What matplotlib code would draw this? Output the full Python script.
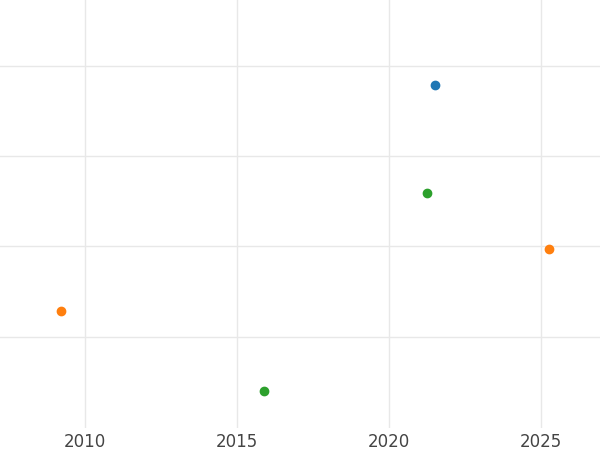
import matplotlib
matplotlib.use("Agg")
import matplotlib.pyplot as plt

blue_x = [2021.5]; blue_y = [2.79]
orange_x = [2025.25, 2009.2]; orange_y = [0.97, 0.29]
green_x = [2021.25, 2015.9]; green_y = [1.59, -0.60]
xticks = [2010, 2015, 2020, 2025]
yticks = [0, 1, 2, 3]

fig = plt.figure(figsize=(6, 4.5), dpi=100)
ax = fig.add_axes([0, 0.049, 1, 0.951])
ax.scatter(blue_x, blue_y, color="#1f77b4", s=36, zorder=3)
ax.scatter(orange_x, orange_y, color="#ff7f0e", s=36, zorder=3)
ax.scatter(green_x, green_y, color="#2ca02c", s=36, zorder=3)
ax.set_xlim(2007.2, 2026.94)
ax.set_ylim(-1.01, 3.73)
ax.set_xticks(xticks)
ax.set_yticks(yticks)
ax.set_yticklabels([])
ax.tick_params(length=0, labelsize=12, colors="#444444")
ax.grid(True, color="#e8e8e8", linewidth=1)
ax.set_axisbelow(True)
for s in ax.spines.values():
    s.set_visible(False)
fig.savefig("out.png")
